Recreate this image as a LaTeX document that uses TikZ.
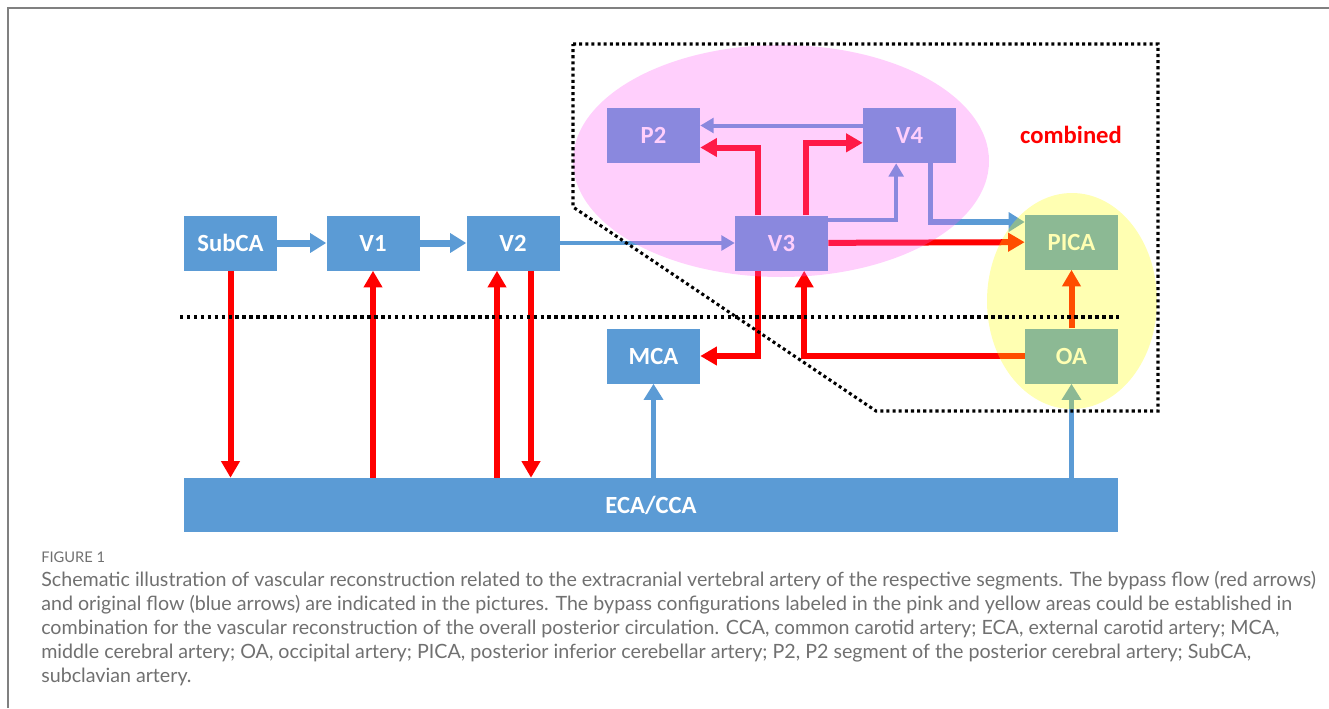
\documentclass[tikz,border=0pt]{standalone}
\usepackage{fontspec}
\usepackage{tikz}
\usetikzlibrary{arrows.meta,calc}
\newfontfamily\boxfont{Carlito}
\newfontfamily\capfont{Lato}
\definecolor{arteryblue}{RGB}{91,155,213}
\definecolor{bypassred}{RGB}{255,0,0}
\definecolor{pinkarea}{RGB}{255,90,245}
\definecolor{yellowarea}{RGB}{255,255,0}
\definecolor{capgray}{RGB}{112,112,112}
\definecolor{framegray}{RGB}{128,128,128}

\begin{document}
\begin{tikzpicture}[x=0.75pt,y=-0.75pt,
  box/.style={fill=arteryblue,text=white,inner sep=0pt,minimum width=69.75pt,minimum height=41.25pt,font=\boxfont\bfseries\fontsize{18.5}{20}\selectfont},
  bluarr/.style={draw=arteryblue,line width=5.25pt,-{Triangle[width=14pt,length=12pt]}},
  thinblu/.style={draw=arteryblue,line width=3pt,-{Triangle[width=11pt,length=10pt]}},
  redarr/.style={draw=bypassred,line width=4.5pt,-{Triangle[width=13.5pt,length=12.5pt]}},
  area/.style={fill opacity=0.3},
  border/.style={line width=2.6pt,dash pattern=on 2.6pt off 2.6pt},
]
  \useasboundingbox (0,0) rectangle (1329,708);
  \draw[framegray,line width=1.5pt] (7.5,708) -- (7.5,7.5) -- (1329,7.5);

  % extracranial segments
  \node[box] (subca) at (230.5,243) {SubCA};
  \node[box] (v1)    at (373,243)   {V1};
  \node[box] (v2)    at (513,243)   {V2};
  \node[box] (v3)    at (781.5,243) {V3};

  % intracranial targets
  \node[box] (ptwo)  at (653.5,135.5) {P2};
  \node[box] (v4)    at (909.5,135.5) {V4};
  \node[box] (pica)  at (1071.5,242)  {PICA};
  \node[box] (oa)    at (1071.5,356)  {OA};
  \node[box] (mca)   at (653.5,356)   {MCA};

  % donor
  \node[box,minimum width=700.5pt,minimum height=40.5pt] (eca) at (651,505) {ECA/CCA};

  % original flow
  \draw[bluarr] (subca) -- (v1);
  \draw[bluarr] (v1) -- (v2);
  \draw[thinblu] (v2) -- (v3);
  \draw[thinblu] ([yshift=17pt]v3.east) -| ([xshift=-10pt]v4.south);
  \draw[thinblu] ([yshift=7.5pt]v4.west) -- ([yshift=7.5pt]ptwo.east);
  \draw[bluarr,line width=4pt] ([xshift=15.5pt]v4.south) |- ([yshift=15pt]pica.west);
  \draw[bluarr,line width=4pt] (mca.south |- eca.north) -- (mca.south);
  \draw[bluarr,line width=4pt] (oa.south |- eca.north) -- (oa.south);

  % bypass flow
  \draw[redarr] (subca.south) -- (subca.south |- eca.north);
  \draw[redarr] (v1.south |- eca.north) -- (v1.south);
  \draw[redarr] ([xshift=-12pt]v2.south |- eca.north) -- ([xshift=-12pt]v2.south);
  \draw[redarr] ([xshift=13.5pt]v2.south) -- ([xshift=13.5pt]v2.south |- eca.north);
  \draw[redarr] ([xshift=-18pt]v3.north) |- ([yshift=-9pt]ptwo.east);
  \draw[redarr] ([xshift=18pt]v3.north) |- ([yshift=-5.5pt]v4.west);
  \draw[redarr] (v3) -- (pica);
  \draw[redarr] ([xshift=-18pt]v3.south) |- (mca.east);
  \draw[redarr] (oa.west) -| ([xshift=17pt]v3.south);
  \draw[redarr] (oa) -- (pica);

  % pink and yellow areas
  \fill[pinkarea,fill opacity=0.29] (781,161) ellipse [x radius=156pt,y radius=87pt];
  \fill[yellowarea,area] (1072,301) ellipse [x radius=63.75pt,y radius=81pt];

  \draw[border] (180,317) -- (1120,317);
  \draw[border,line width=2.3pt,dash pattern=on 2.3pt off 2.3pt] (573,44) -- (1158,44) -- (1158,411) -- (876,411) -- (573,207) -- cycle;
  \node[text=bypassred,font=\boxfont\bfseries\fontsize{18.5}{20}\selectfont] (comb) at (1071,135) {combined};

  % caption
  \node[anchor=base west,inner sep=0pt,text=capgray,font=\capfont\fontsize{11}{12}\selectfont] (fig) at (41,562) {FIGURE 1};
  \node[anchor=north west,inner sep=0pt,align=left,text=capgray,font=\capfont\fontsize{14.75}{18}\selectfont] (cap) at (41,571)
    {Schematic illustration of vascular reconstruction related to the extracranial vertebral artery of the respective segments. The bypass flow (red arrows)\\
     and original flow (blue arrows) are indicated in the pictures. The bypass configurations labeled in the pink and yellow areas could be established in\\
     combination for the vascular reconstruction of the overall posterior circulation. CCA, common carotid artery; ECA, external carotid artery; MCA,\\
     middle cerebral artery; OA, occipital artery; PICA, posterior inferior cerebellar artery; P2, P2 segment of the posterior cerebral artery; SubCA,\\
     subclavian artery.};
\end{tikzpicture}
\end{document}
